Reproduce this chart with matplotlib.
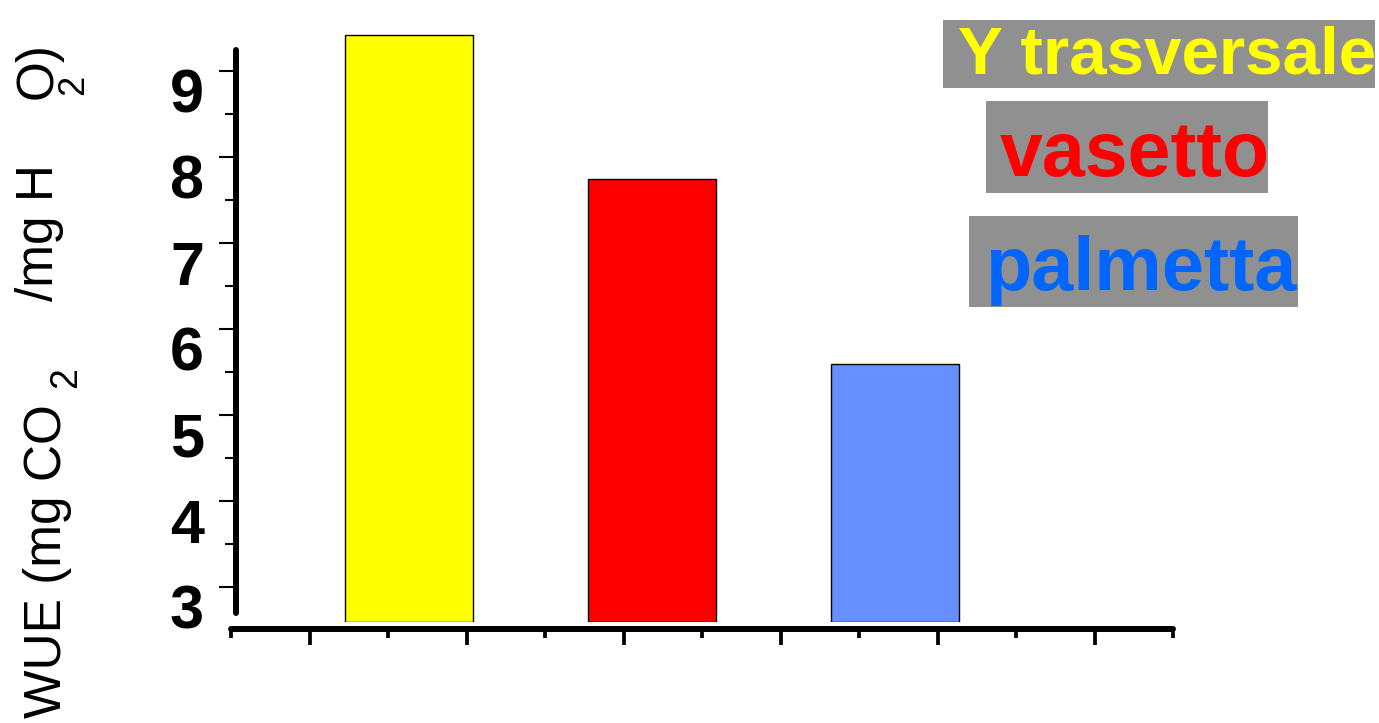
import numpy as np
import matplotlib
matplotlib.use('Agg')
import matplotlib.pyplot as plt
from matplotlib.transforms import ScaledTranslation
from matplotlib.patches import Rectangle

plt.rcParams['font.family'] = ['Liberation Sans', 'DejaVu Sans']

# data
categories = ['Y trasversale', 'vasetto', 'palmetta']
wue = [9.42, 7.74, 5.59]
bar_colors = ['#FFFF00', '#FF0000', '#6690FF']
label_colors = ['#FFFF00', '#FF0000', '#0066FF']
yticks = [3, 4, 5, 6, 7, 8, 9]
y_base = 2.593

W, H = 1379, 723
fig = plt.figure(figsize=(W / 100, H / 100), dpi=100)


def fx(px):
    return px / W


def fy(py):
    # pixel measured from the top of the picture
    return 1 - py / H


ax = fig.add_axes([fx(236), fy(622), fx(1170 - 236), (622 - 20) / H])
ax.patch.set_alpha(0)

x = np.arange(len(categories))
ax.bar(x, np.array(wue) - y_base, bottom=y_base, width=0.527,
       color=bar_colors, edgecolor='black', linewidth=1.0)

ax.set_xlim(-0.712, 3.132)
ax.set_ylim(y_base, y_base + 7)

for s in ['top', 'right', 'bottom']:
    ax.spines[s].set_visible(False)
ax.spines['left'].set_linewidth(4.3)
ax.spines['left'].set_capstyle('round')
ax.spines['left'].set_bounds(2.698, 9.244)

ax.set_xticks([])
ax.set_yticks(yticks)
ax.set_yticks(np.arange(3.5, 9.5, 1.0), minor=True)
ax.tick_params(axis='y', which='major', length=12, width=1.5, pad=11,
               labelsize=44)
ax.tick_params(axis='y', which='minor', length=8, width=1.5)
ax.set_yticklabels([str(t) for t in yticks], fontweight='bold')
# labels sit a bit below their ticks, as in the original slide
shift = ScaledTranslation(0, -0.2, fig.dpi_scale_trans)
for lab in ax.get_yticklabels():
    lab.set_transform(lab.get_transform() + shift)

# separate decorative x axis line below the plot
axx = fig.add_axes([fx(231), fy(629), fx(1173 - 231), 0.0001])
axx.patch.set_alpha(0)
for s in ['top', 'right', 'left']:
    axx.spines[s].set_visible(False)
axx.spines['bottom'].set_linewidth(4.3)
axx.spines['bottom'].set_capstyle('round')
axx.set_xlim(0, 12)
axx.set_yticks([])
axx.set_xticks(range(1, 12, 2))
axx.set_xticks(range(0, 13, 2), minor=True)
axx.set_xticklabels([])
axx.tick_params(axis='x', which='major', length=11.5, width=2.7)
axx.tick_params(axis='x', which='minor', length=6.5, width=2.7)

# y label, built from pieces like the original
lab_kw = dict(rotation=90, rotation_mode='anchor', ha='left', va='baseline',
              color='black')
fig.text(fx(61), fy(718), 'WUE (mg CO', fontsize=37, **lab_kw)
fig.text(fx(76), fy(388), '2', fontsize=27, **lab_kw)
fig.text(fx(53), fy(301), '/mg H', fontsize=37, **lab_kw)
fig.text(fx(52), fy(99), 'O)', fontsize=37, **lab_kw)
fig.text(fx(83), fy(95), '2', fontsize=26, **lab_kw)

# legend boxes
boxes = [(943, 20, 1375, 88), (986, 101, 1268, 193), (969, 216, 1298, 307)]
text_pos = [(958, 73, 48.5), (1000, 176, 55.5), (985, 290, 54.5)]
for name, col, (x0, y0, x1, y1), (tx, ty, fs) in zip(categories, label_colors,
                                                     boxes, text_pos):
    fig.patches.append(Rectangle((fx(x0), fy(y1)), fx(x1 - x0), (y1 - y0) / H,
                                 transform=fig.transFigure,
                                 facecolor='#909090', edgecolor='none'))
    fig.text(fx(tx), fy(ty), name, fontsize=fs, fontweight='bold', color=col,
             ha='left', va='baseline')

fig.savefig('out.png', dpi=100)
